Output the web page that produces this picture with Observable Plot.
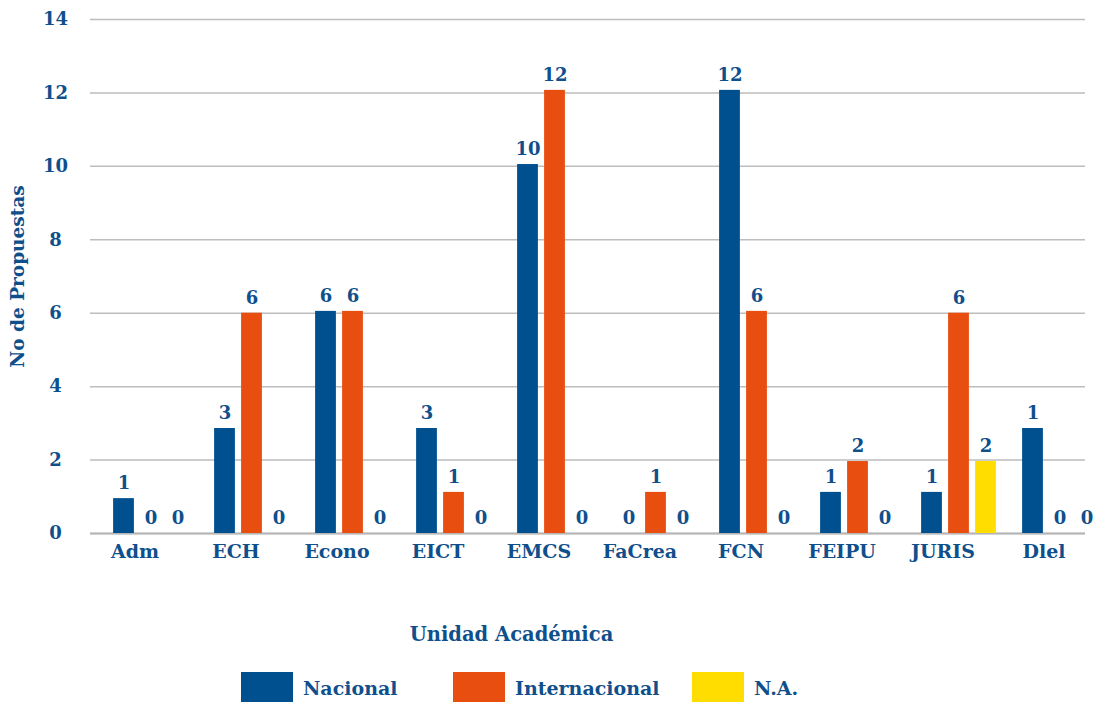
<!DOCTYPE html>
<html>
<head>
<meta charset="utf-8">
<script src="https://cdn.jsdelivr.net/npm/d3@7"></script>
<script src="https://cdn.jsdelivr.net/npm/@observablehq/plot@0.6"></script>
<style>
  body { margin: 0; background: #fff; font-family: "DejaVu Serif", serif; }
  #wrap { position: relative; width: 1093px; height: 702px; overflow: hidden; }
  .leg { position: absolute; top: 672px; display: flex; align-items: center; color: #0f4f8c; font-weight: bold; font-size: 19px; }
  .sw { width: 52px; height: 32px; margin-right: 10px; }
</style>
</head>
<body>
<div id="wrap"></div>
<script>
const categorias = ["Adm", "ECH", "Econo", "EICT", "EMCS", "FaCrea", "FCN", "FEIPU", "JURIS", "Dlel"];
const series = ["Nacional", "Internacional", "N.A."];
// bar heights as drawn
const nacional      = [0.95, 2.86, 6.05, 2.86, 10.05, 0, 12.07, 1.12, 1.12, 2.86];
const internacional = [0, 6.0, 6.05, 1.12, 12.07, 1.12, 6.05, 1.96, 6.0, 0];
const na            = [0, 0, 0, 0, 0, 0, 0, 0, 1.96, 0];
// value labels as printed
const etiquetasNacional      = [1, 3, 6, 3, 10, 0, 12, 1, 1, 1];
const etiquetasInternacional = [0, 6, 6, 1, 12, 1, 6, 2, 6, 0];
const etiquetasNA            = [0, 0, 0, 0, 0, 0, 0, 0, 2, 0];
const yTicks = [0, 2, 4, 6, 8, 10, 12, 14];

const colores = {"Nacional": "#00508f", "Internacional": "#e84e0f", "N.A.": "#ffdd00"};
const textColor = "#0f4f8c";
const valores = {"Nacional": nacional, "Internacional": internacional, "N.A.": na};
const etiquetas = {"Nacional": etiquetasNacional, "Internacional": etiquetasInternacional, "N.A.": etiquetasNA};
const desplaz = {"Nacional": -27, "Internacional": 0, "N.A.": 27};

const filas = [];
series.forEach(s => categorias.forEach((c, i) => filas.push({cat: c, serie: s, valor: valores[s][i], etiqueta: etiquetas[s][i]})));

const font = "DejaVu Serif";
const marks = [
  Plot.gridY(yTicks, {stroke: "#bdbdbd", strokeOpacity: 1, strokeWidth: 1.5}),
  Plot.ruleY([0], {stroke: "#b5b5b5", strokeWidth: 2}),
  Plot.axisY(yTicks, {tickSize: 0, tickPadding: 35, textAnchor: "middle", label: null, fill: textColor, fontSize: 18, fontWeight: "bold", fontFamily: font}),
  Plot.axisX({tickSize: 0, tickPadding: 11, dx: -16, label: null, fill: textColor, fontSize: 19, fontWeight: "bold", fontFamily: font}),
];
series.forEach(s => {
  const rows = filas.filter(d => d.serie === s);
  marks.push(Plot.barY(rows.filter(d => d.valor > 0), {x: "cat", y: "valor", fill: colores[s], dx: desplaz[s], insetLeft: 40.1, insetRight: 40.1}));
});
series.forEach(s => {
  const rows = filas.filter(d => d.serie === s);
  marks.push(Plot.text(rows, {x: "cat", y: "valor", text: d => String(d.etiqueta), dx: desplaz[s], dy: -15, fill: textColor, fontSize: 18, fontWeight: "bold", fontFamily: font}));
});
marks.push(Plot.text(["No de Propuestas"], {frameAnchor: "left", textAnchor: "middle", dx: -72, rotate: -90, fill: textColor, fontSize: 18.5, fontWeight: "bold", fontFamily: font}));
marks.push(Plot.text(["Unidad Académica"], {frameAnchor: "bottom-left", textAnchor: "middle", dx: 511 - 90, dy: 107, fill: textColor, fontSize: 19.5, fontWeight: "bold", fontFamily: font}));

const chart = Plot.plot({
  width: 1093,
  height: 660,
  marginLeft: 90,
  marginRight: 8,
  marginTop: 19,
  marginBottom: 127,
  style: {background: "#fff", fontFamily: font},
  x: {domain: categorias, range: [98.9, 1110.9], padding: 0},
  y: {domain: [0, 14], range: [533, 19]},
  marks
});
const wrap = document.getElementById("wrap");
wrap.appendChild(chart);

const legX = {"Nacional": 241, "Internacional": 453, "N.A.": 692};
series.forEach(s => {
  const d = document.createElement("div");
  d.className = "leg";
  d.style.left = legX[s] + "px";
  const sw = document.createElement("div");
  sw.className = "sw";
  sw.style.background = colores[s];
  const t = document.createElement("span");
  t.textContent = s;
  d.appendChild(sw); d.appendChild(t);
  wrap.appendChild(d);
});
</script>
</body>
</html>
